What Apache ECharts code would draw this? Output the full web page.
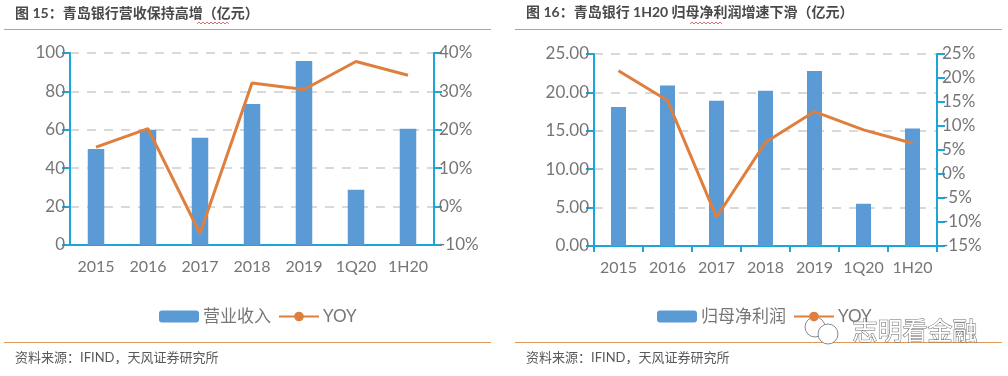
<!DOCTYPE html>
<html>
<head>
<meta charset="utf-8">
<style>
  html, body { margin: 0; padding: 0; background: #fff; }
  #chart { width: 1008px; height: 376px; }
</style>
<script src="https://cdn.jsdelivr.net/npm/echarts@6/dist/echarts.min.js"></script>
</head>
<body>
<div id="chart"></div>
<script>
const periods = ["2015", "2016", "2017", "2018", "2019", "1Q20", "1H20"];
const revenue = [50, 60, 55.8, 73.4, 95.8, 28.8, 60.5];
const revenue_yoy = [15.5, 20.3, -7, 32.2, 30.5, 37.8, 34.2];
const profit = [18.1, 20.9, 18.9, 20.2, 22.8, 5.5, 15.3];
const profit_yoy = [21.5, 15.3, -9, 6.6, 13, 9.2, 6.4];

const font = 'Lato, "Noto Sans CJK SC", sans-serif';
const blue = "#1BA5D8";
const orange = "#DF7F3E";
const bar_color = "#5B9BD5";
const text_color = "#767676";
const rule_color = "#DE9A5C";

const chart = echarts.init(document.getElementById("chart"), null, { renderer: "canvas" });

function valueAxis(grid, min, max, interval, fmt, showGrid, position) {
  return {
    type: "value",
    gridIndex: grid,
    position: position,
    min: min,
    max: max,
    interval: interval,
    axisLine: { show: true, onZero: false, lineStyle: { color: blue, width: 2 } },
    axisTick: { show: true, length: 8, lineStyle: { color: blue, width: 2 } },
    axisLabel: { color: text_color, fontSize: 17, fontFamily: font, margin: 5, formatter: fmt },
    splitLine: {
      show: showGrid,
      lineStyle: { color: "#D9D9D9", width: 2, type: [9, 8] },
    },
  };
}

function categoryAxis(grid, showTick) {
  return {
    type: "category",
    gridIndex: grid,
    data: periods,
    axisLine: { show: true, onZero: false, lineStyle: { color: blue, width: 2 } },
    axisTick: { show: showTick, length: 6, alignWithLabel: false, lineStyle: { color: blue, width: 2 } },
    axisLabel: { color: text_color, fontSize: 16, fontFamily: font, margin: 14, interval: 0 },
  };
}

function legend(left, names) {
  return {
    left: left,
    top: 303,
    itemWidth: 40,
    itemHeight: 12,
    itemGap: 7,
    selectedMode: false,
    data: names,
    textStyle: { color: text_color, fontSize: 17, fontFamily: font, padding: [0, 0, 0, -1] },
  };
}

function label(x, y, text, size, bold, color) {
  return {
    type: "text",
    left: x,
    top: y,
    style: {
      text: text,
      fontSize: size,
      fontWeight: bold ? "bold" : "normal",
      fontFamily: font,
      fill: color,
    },
  };
}

function rule(x1, x2, y) {
  return {
    type: "line",
    shape: { x1: x1, y1: y, x2: x2, y2: y },
    style: { stroke: rule_color, lineWidth: 1 },
  };
}

function squiggle(x, y, w) {
  const pts = [];
  for (let i = 0; i <= w / 2; i++) pts.push([x + i * 2, y + (i % 2 ? 0 : 2)]);
  return { type: "polyline", shape: { points: pts }, style: { stroke: "#C0392B", fill: null, lineWidth: 0.7 } };
}

function bubble(cx, cy, r) {
  return { type: "circle", shape: { cx: cx, cy: cy, r: r }, style: { fill: "#fff", stroke: "#8a8a8a", lineWidth: 1 } };
}

chart.setOption({
  animation: false,
  backgroundColor: "#fff",
  grid: [
    { left: 70, right: 574, top: 53, height: 192 },
    { left: 594, right: 71, top: 54, height: 192 },
  ],
  xAxis: [categoryAxis(0, false), categoryAxis(1, true)],
  yAxis: [
    valueAxis(0, 0, 100, 20, "{value}", true, "left"),
    valueAxis(0, -10, 40, 10, "{value}%", false, "right"),
    valueAxis(1, 0, 25, 5, (v) => v.toFixed(2), true, "left"),
    valueAxis(1, -15, 25, 5, "{value}%", false, "right"),
  ],
  legend: [legend(154, ["营业收入", "YOY"]), legend(652, ["归母净利润", "YOY"])],
  series: [
    { name: "营业收入", type: "bar", xAxisIndex: 0, yAxisIndex: 0, data: revenue, barWidth: 16.5, itemStyle: { color: bar_color } },
    { name: "YOY", type: "line", xAxisIndex: 0, yAxisIndex: 1, data: revenue_yoy, showSymbol: false, symbol: "none", lineStyle: { color: orange, width: 3 }, itemStyle: { color: orange } },
    { name: "归母净利润", type: "bar", xAxisIndex: 1, yAxisIndex: 2, data: profit, barWidth: 15, itemStyle: { color: bar_color } },
    { name: "YOY", type: "line", xAxisIndex: 1, yAxisIndex: 3, data: profit_yoy, showSymbol: false, symbol: "none", lineStyle: { color: orange, width: 3 }, itemStyle: { color: orange } },
  ],
  graphic: [
    label(15, 6, "图 15：青岛银行营收保持高增（亿元）", 14, true, "#4A4A4A"),
    label(526, 5, "图 16：青岛银行 1H20 归母净利润增速下滑（亿元）", 14, true, "#4A4A4A"),
    rule(4, 491, 29.5),
    rule(515, 1002, 29.5),
    rule(4, 491, 342.5),
    rule(515, 1002, 342.5),
    squiggle(197, 22, 32),
    squiggle(690, 22, 32),
    label(15, 351, "资料来源：IFIND，天风证券研究所", 13, false, "#595959"),
    label(526, 351, "资料来源：IFIND，天风证券研究所", 13, false, "#595959"),
    // watermark
    bubble(815, 327, 10),
    bubble(828, 334, 10),
    {
      type: "text",
      left: 852,
      top: 319,
      style: {
        text: "志明看金融",
        fontSize: 25,
        fontFamily: font,
        fill: "#fff",
        stroke: "#666",
        lineWidth: 1,
      },
    },
  ],
});
</script>
</body>
</html>
